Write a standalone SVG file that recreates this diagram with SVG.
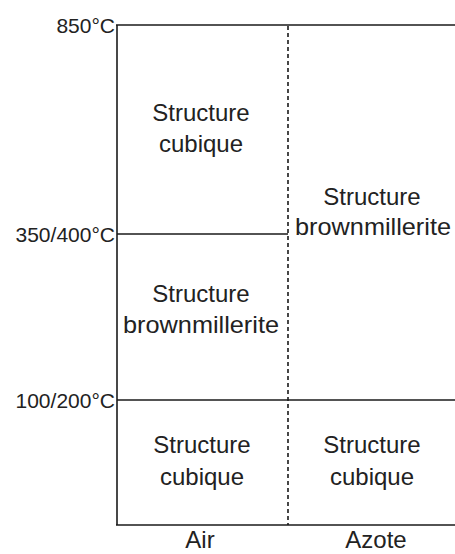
<svg xmlns="http://www.w3.org/2000/svg" width="455" height="554" viewBox="0 0 455 554">
  <style>
    .ln { stroke: #1a1a1a; stroke-width: 1.6; fill: none; }
    .dash { stroke: #1a1a1a; stroke-width: 1.6; fill: none; stroke-dasharray: 4 3; }
    .t { font-family: "Liberation Sans", Arial, sans-serif; font-size: 24px; fill: #222; text-anchor: middle; }
    .lab { font-family: "Liberation Sans", Arial, sans-serif; font-size: 21px; fill: #222; text-anchor: end; }
  </style>
  <rect width="455" height="554" fill="#fff"/>
  <g id="connectors">
    <line class="ln" x1="117" y1="25" x2="117" y2="525"/>
    <line class="ln" x1="116" y1="25" x2="455" y2="25"/>
    <line class="ln" x1="117" y1="234" x2="288" y2="234"/>
    <line class="ln" x1="117" y1="400" x2="455" y2="400"/>
    <line class="ln" x1="116" y1="525" x2="455" y2="525"/>
    <line class="dash" x1="288" y1="26" x2="288" y2="525"/>
  </g>
  <g id="labels">
    <text class="lab" x="115" y="32.5">850°C</text>
    <text class="lab" x="115" y="241.5">350/400°C</text>
    <text class="lab" x="115" y="407.5">100/200°C</text>
    <text class="t" x="200" y="548">Air</text>
    <text class="t" x="376" y="548">Azote</text>
  </g>
  <g id="air-cubique-haut">
    <text class="t" x="201" y="121">Structure</text>
    <text class="t" x="201" y="152">cubique</text>
  </g>
  <g id="air-brownmillerite">
    <text class="t" x="201" y="302">Structure</text>
    <text class="t" x="201" y="333" textLength="156" lengthAdjust="spacingAndGlyphs">brownmillerite</text>
  </g>
  <g id="azote-brownmillerite">
    <text class="t" x="372" y="205">Structure</text>
    <text class="t" x="373" y="235" textLength="156" lengthAdjust="spacingAndGlyphs">brownmillerite</text>
  </g>
  <g id="air-cubique-bas">
    <text class="t" x="202" y="453">Structure</text>
    <text class="t" x="202" y="485">cubique</text>
  </g>
  <g id="azote-cubique">
    <text class="t" x="372" y="453">Structure</text>
    <text class="t" x="372" y="485">cubique</text>
  </g>
</svg>
